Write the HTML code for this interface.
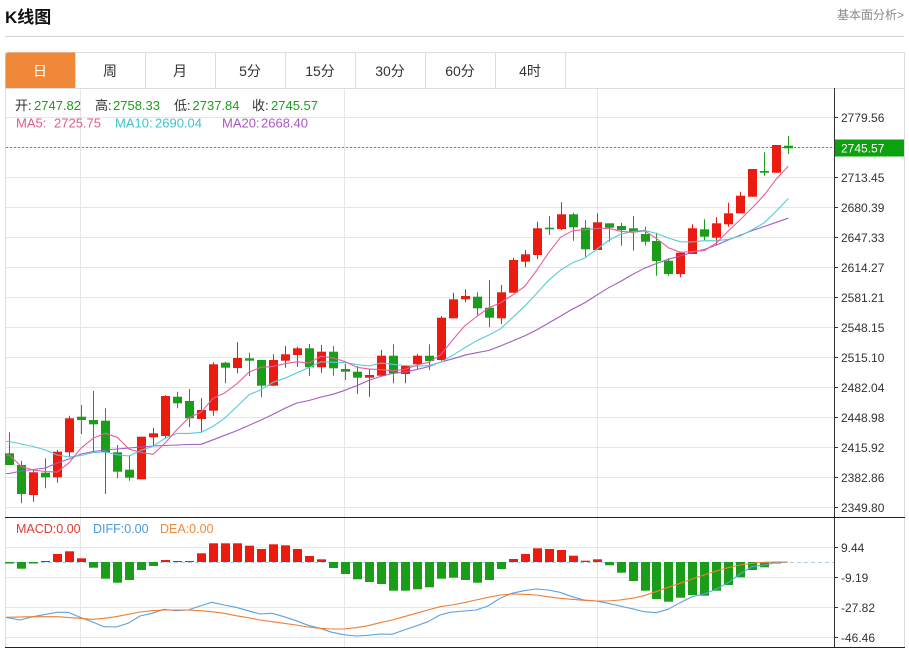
<!DOCTYPE html>
<html><head><meta charset="utf-8">
<style>
html,body{margin:0;padding:0;background:#fff;}
svg{display:block;}
text{font-family:"Liberation Sans","Noto Sans CJK SC",sans-serif;}
</style></head><body>
<svg id="c" width="909" height="650" viewBox="0 0 909 650" xmlns="http://www.w3.org/2000/svg">
<rect width="909" height="650" fill="#fff"/>
<text x="5" y="23" font-size="17" font-weight="bold" fill="#111">K线图</text>
<text x="904" y="19" font-size="12" fill="#888" text-anchor="end">基本面分析&gt;</text>
<line x1="5" y1="36.5" x2="904" y2="36.5" stroke="#d4d4d4"/>

<!-- frame -->
<rect x="5.5" y="52.5" width="899" height="595" fill="none" stroke="#ddd"/>
<!-- tabs -->
<path d="M5.5,88 V56 Q5.5,52.5 9,52.5 H75.5 V88 Z" fill="#f0883a"/>
<g stroke="#ddd">
<line x1="75.5" y1="52" x2="75.5" y2="88"/>
<line x1="145.5" y1="52" x2="145.5" y2="88"/>
<line x1="215.5" y1="52" x2="215.5" y2="88"/>
<line x1="285.5" y1="52" x2="285.5" y2="88"/>
<line x1="355.5" y1="52" x2="355.5" y2="88"/>
<line x1="425.5" y1="52" x2="425.5" y2="88"/>
<line x1="495.5" y1="52" x2="495.5" y2="88"/>
<line x1="565.5" y1="52" x2="565.5" y2="88"/>
<line x1="5" y1="88.5" x2="905" y2="88.5"/>
</g>
<g font-size="14" fill="#333" text-anchor="middle">
<text x="40" y="76" fill="#fff">日</text>
<text x="110" y="76">周</text>
<text x="180" y="76">月</text>
<text x="250" y="76">5分</text>
<text x="320" y="76">15分</text>
<text x="390" y="76">30分</text>
<text x="460" y="76">60分</text>
<text x="530" y="76">4时</text>
</g>

<!-- grids -->
<g stroke="#e6e6e6">
<line x1="80.5" y1="89" x2="80.5" y2="647"/>
<line x1="344.5" y1="89" x2="344.5" y2="647"/>
<line x1="597.5" y1="89" x2="597.5" y2="647"/>
<line x1="6" y1="117.5" x2="834" y2="117.5"/>
<line x1="6" y1="147.5" x2="834" y2="147.5"/>
<line x1="6" y1="177.5" x2="834" y2="177.5"/>
<line x1="6" y1="207.5" x2="834" y2="207.5"/>
<line x1="6" y1="237.5" x2="834" y2="237.5"/>
<line x1="6" y1="267.5" x2="834" y2="267.5"/>
<line x1="6" y1="297.5" x2="834" y2="297.5"/>
<line x1="6" y1="327.5" x2="834" y2="327.5"/>
<line x1="6" y1="357.5" x2="834" y2="357.5"/>
<line x1="6" y1="387.5" x2="834" y2="387.5"/>
<line x1="6" y1="417.5" x2="834" y2="417.5"/>
<line x1="6" y1="447.5" x2="834" y2="447.5"/>
<line x1="6" y1="477.5" x2="834" y2="477.5"/>
<line x1="6" y1="507.5" x2="834" y2="507.5"/>
<line x1="6" y1="547.5" x2="834" y2="547.5"/>
<line x1="6" y1="577.5" x2="834" y2="577.5"/>
<line x1="6" y1="607.5" x2="834" y2="607.5"/>
<line x1="6" y1="637.5" x2="834" y2="637.5"/>
</g>

<!-- legend -->
<text y="110" font-size="13">
<tspan x="15" fill="#333">开:</tspan><tspan x="34" fill="#1c9c1c">2747.82</tspan>
<tspan x="95" fill="#333">高:</tspan><tspan x="113" fill="#1c9c1c">2758.33</tspan>
<tspan x="174" fill="#333">低:</tspan><tspan x="192.5" fill="#1c9c1c">2737.84</tspan>
<tspan x="252" fill="#333">收:</tspan><tspan x="271" fill="#1c9c1c">2745.57</tspan>
</text>
<text y="127.5" font-size="13">
<tspan x="16" fill="#e4588e">MA5:</tspan><tspan x="54" fill="#e4588e">2725.75</tspan>
<tspan x="115" fill="#3cc3d0">MA10:</tspan><tspan x="155" fill="#3cc3d0">2690.04</tspan>
<tspan x="222" fill="#a858c0">MA20:</tspan><tspan x="261" fill="#a858c0">2668.40</tspan>
</text>
<text x="16" y="533" font-size="12.5" fill="#e53935">MACD:0.00</text>
<text x="93" y="533" font-size="12.5" fill="#4a9ae0">DIFF:0.00</text>
<text x="160" y="533" font-size="12.5" fill="#f08a3c">DEA:0.00</text>

<!-- current price dotted -->
<line x1="6" y1="147.5" x2="834" y2="147.5" stroke="#2fae2f" stroke-dasharray="2,2"/>
<!-- macd zero line -->
<line x1="6" y1="562.5" x2="834" y2="562.5" stroke="#a8d0ec" stroke-dasharray="4,3"/>

<g id="cand"></g>
<g id="mal"></g>
<g id="bars"></g>

<polyline fill="none" stroke="#5aa2e2" stroke-width="1.1" stroke-linejoin="round" points="6,617.3 20,620 33,616.7 57,612.3 68,612.3 80,617.3 92,621.7 104,626.7 116,627 128,623.3 140,616 152,613.3 164,609.3 176,610.7 188,610 200,606 212,602.3 224,605 236,607.3 248,610.7 260,614 272,613.3 284,616.7 296,620.7 308,625.3 320,628.3 332,632.3 344,634.7 356,636 368,635.3 380,634 392,634.3 404,630 416,626 428,621.7 440,615 450,612.3 464,611 476,610 488,606 500,598.3 512,593.3 524,590.7 536,589 548,590 560,592.3 572,596.7 584,600 596,601 608,603.3 620,606 632,608.7 644,611.7 656,612.7 668,609.3 680,602.7 692,596.7 704,594 716,589.3 728,582.7 740,574 752,566.7 764,565 776,562.7 788,562"/>
<polyline fill="none" stroke="#f07e32" stroke-width="1.1" stroke-linejoin="round" points="6,617.3 33,616.7 57,616.7 80,618.3 93,619.3 104,618.3 116,616.7 128,614.3 140,612 152,610.7 164,610 188,610 200,610.7 212,611.7 224,613.3 236,615.7 248,617.7 260,620 272,621.7 284,623.3 296,625 308,627 320,628.3 332,629 344,629 356,627.7 368,625.7 380,622.7 392,620 404,616.7 416,613.3 428,610 440,606.7 452,605 464,602.7 476,600 488,597.3 500,595 512,594 524,594.3 536,595 548,596.7 560,598.3 572,599.3 584,600.3 596,601 608,601 620,600 632,598.3 644,595.7 656,591.7 668,587.3 680,583.3 692,579 704,575 716,571 728,567.7 740,565 752,563.3 764,562.3 776,562 788,562"/>

<!-- axis -->
<line x1="834.5" y1="88" x2="834.5" y2="647" stroke="#333"/>
<line x1="5" y1="517.5" x2="905" y2="517.5" stroke="#222"/>
<line x1="5" y1="647.5" x2="905" y2="647.5" stroke="#222"/>
<g stroke="#333">
<line x1="834" y1="117.5" x2="838" y2="117.5"/>
<line x1="834" y1="177.5" x2="838" y2="177.5"/>
<line x1="834" y1="207.5" x2="838" y2="207.5"/>
<line x1="834" y1="237.5" x2="838" y2="237.5"/>
<line x1="834" y1="267.5" x2="838" y2="267.5"/>
<line x1="834" y1="297.5" x2="838" y2="297.5"/>
<line x1="834" y1="327.5" x2="838" y2="327.5"/>
<line x1="834" y1="357.5" x2="838" y2="357.5"/>
<line x1="834" y1="387.5" x2="838" y2="387.5"/>
<line x1="834" y1="417.5" x2="838" y2="417.5"/>
<line x1="834" y1="447.5" x2="838" y2="447.5"/>
<line x1="834" y1="477.5" x2="838" y2="477.5"/>
<line x1="834" y1="507.5" x2="838" y2="507.5"/>
<line x1="834" y1="547.5" x2="838" y2="547.5"/>
<line x1="834" y1="577.5" x2="838" y2="577.5"/>
<line x1="834" y1="607.5" x2="838" y2="607.5"/>
<line x1="834" y1="637.5" x2="838" y2="637.5"/>
</g>
<g font-size="12" fill="#333">
<text x="841" y="122">2779.56</text>
<text x="841" y="182">2713.45</text>
<text x="841" y="212">2680.39</text>
<text x="841" y="242">2647.33</text>
<text x="841" y="272">2614.27</text>
<text x="841" y="302">2581.21</text>
<text x="841" y="332">2548.15</text>
<text x="841" y="362">2515.10</text>
<text x="841" y="392">2482.04</text>
<text x="841" y="422">2448.98</text>
<text x="841" y="452">2415.92</text>
<text x="841" y="482">2382.86</text>
<text x="841" y="512">2349.80</text>
<text x="841" y="552">9.44</text>
<text x="841" y="582">-9.19</text>
<text x="841" y="612">-27.82</text>
<text x="841" y="642">-46.46</text>
</g>
<rect x="835" y="139.5" width="69" height="17" fill="#0ea10e"/>
<text x="841" y="152.5" font-size="12" fill="#fff">2745.57</text>
</svg>
<script>
(function(){
var C=[
['g',453.3,465,432.3,465],['g',465,494,460.7,503.3],['r',472.3,495,469,501.7],['g',472.7,477.3,458.3,488.3],
['r',451.7,477.3,450,482.7],['r',418.3,452.3,415.7,456.7],['g',416.7,420,405,434],['g',420,424.3,391,451.7],
['g',420.7,452.3,408.3,494],['g',452.3,471.7,445,478.3],['g',469.7,477.7,455,480.7],['r',436.7,479.3,436.7,479.3],
['r',433.3,437.3,427.7,445.7],['r',396,436,395.3,438.3],['g',396.7,403.3,391.7,408.3],['g',401,418.3,389,427.3],
['r',410,419,398.3,431.7],['r',364.3,410.7,362.3,415.7],['g',362.7,367.7,361.7,383.3],['r',358,368,342.3,373.3],
['g',358.3,360.7,352.7,376],['g',360,385.7,360,397.3],['r',360,385.7,354.3,385.7],['r',354.3,360.7,346,367.7],
['r',348.3,355,346.7,366.7],['g',348.3,367.3,344,376],['r',351.7,367.3,345,372.7],['g',351.7,368.3,346,375.7],
['g',369,371.7,364,380],['g',371.7,377.7,366,394],['r',375,377.7,369.3,396.7],['r',355.7,375.7,350,376.7],
['g',355.7,373.3,344.3,383.3],['r',366,374,366,383.3],['r',355.7,364.3,354,369.3],['g',355.7,361,344.3,370],
['r',317.7,360,316,360.7],['r',299.3,318.3,292.7,318.3],['r',296,299.3,289.3,302.3],['g',296.7,308.3,292.3,315],
['g',307.7,317.7,280,327.3],['r',292.3,318.3,285,324],['r',260,292.7,257.7,292.7],['r',254.3,261.7,250,267.3],
['r',228.3,255,221.7,259],['g',227.7,229.3,216,235],['r',214.3,229,202.3,230],['g',214.3,227.3,212.7,240.7],
['g',227.7,249.3,220,256.7],['r',222.3,250,213.3,250],['g',223.3,227.7,223.3,241.7],['g',226,230,222.7,245.7],
['g',228.3,232.3,216,250.7],['g',234,241.7,226.7,245.7],['g',241,261,232.7,275.7],['g',260.7,274,258.3,275.7],
['r',252.7,274,251.7,277.3],['r',228.3,254,224.3,254],['g',229.3,236.7,219.3,240],['r',223.3,237.7,217.3,245],
['r',213.3,224.3,202.7,226.7],['r',195.7,213.3,191.7,213.3],['r',169,196.7,169,196.7],['g',171,172.7,152.3,175.7],
['r',145,172.7,145,172.7],['g',145.7,148.3,136,154]
];
var B=[
['g',563.5],['g',568.7],['g',563.5],['r',561],['r',554],['r',551.3],['r',558.3],['g',567.7],['g',578.7],['g',582.7],
['g',580],['g',570],['g',566],['r',560],['r',561],['r',561],['r',553.3],['r',543.3],['r',543.3],['r',543.3],
['r',545.7],['r',549],['r',544.3],['r',545.3],['r',549],['r',556],['r',559.3],['g',568],['g',574],['g',579.3],
['g',582],['g',584],['g',590.7],['g',590.7],['g',589.3],['g',587.3],['g',578.7],['g',577.7],['g',580],['g',582.7],
['g',580],['g',569],['r',559],['r',554],['r',548.3],['r',549],['r',550],['r',555.7],['r',560.7],['r',559.3],
['g',565.3],['g',572.7],['g',581],['g',590.7],['g',599],['g',601.7],['g',597.7],['g',595],['g',595.7],['g',590.7],
['g',585],['g',577.3],['g',570],['g',567.3],['g',563.5]
];
var NS='http://www.w3.org/2000/svg';
var gC=document.getElementById('cand'),gM=document.getElementById('mal'),gB=document.getElementById('bars');
function X(i){return 9.3+11.985*i;}
function mk(p,t,a){var e=document.createElementNS(NS,t);for(var k in a)e.setAttribute(k,a[k]);p.appendChild(e);return e;}
var RED='#ec1b10',GRN='#1a9e1a';
for(var i=0;i<C.length;i++){
  var c=C[i],cx=Math.round(X(i)),col=c[0]=='r'?RED:GRN;
  mk(gC,'line',{x1:cx+0.5,x2:cx+0.5,y1:c[3],y2:c[4],stroke:col,'stroke-width':1});
  var h=Math.max(c[2]-c[1],1.5);
  mk(gC,'rect',{x:cx-4,y:c[1],width:9,height:h,fill:col});
}
var cl=C.map(function(c){return c[0]=='r'?c[1]:c[2];});
function ma(n,pre,col){
  var p=['6,'+pre[0]];
  for(var i=0;i<pre.length;i++)p.push(X(i).toFixed(1)+','+pre[i]);
  for(var i=n-1;i<cl.length;i++){var s=0;for(var j=i-n+1;j<=i;j++)s+=cl[j];p.push(X(i).toFixed(1)+','+(s/n).toFixed(1));}
  mk(gM,'polyline',{points:p.join(' '),fill:'none',stroke:col,'stroke-width':1.1,'stroke-linejoin':'round'});
}
ma(20,[473.5,471,469.5,468,463,459,454,451.5,450,449,448,447,446,445.5,445,444.5,444.3,439.8,435.2],'#a45bc5');
ma(10,[441.5,444,446.5,450,455,457,455.5,452.5,452],'#56cbd8');
ma(5,[455,466.5,470,471.5],'#e4609a');
for(var i=0;i<B.length;i++){
  var b=B[i],cx=Math.round(X(i)),col=b[0]=='r'?RED:GRN;
  var top=Math.min(562,b[1]),h=Math.max(Math.abs(b[1]-562),1);
  mk(gB,'rect',{x:cx-4,y:top,width:9,height:h,fill:col});
}
})();
</script>
</body></html>
